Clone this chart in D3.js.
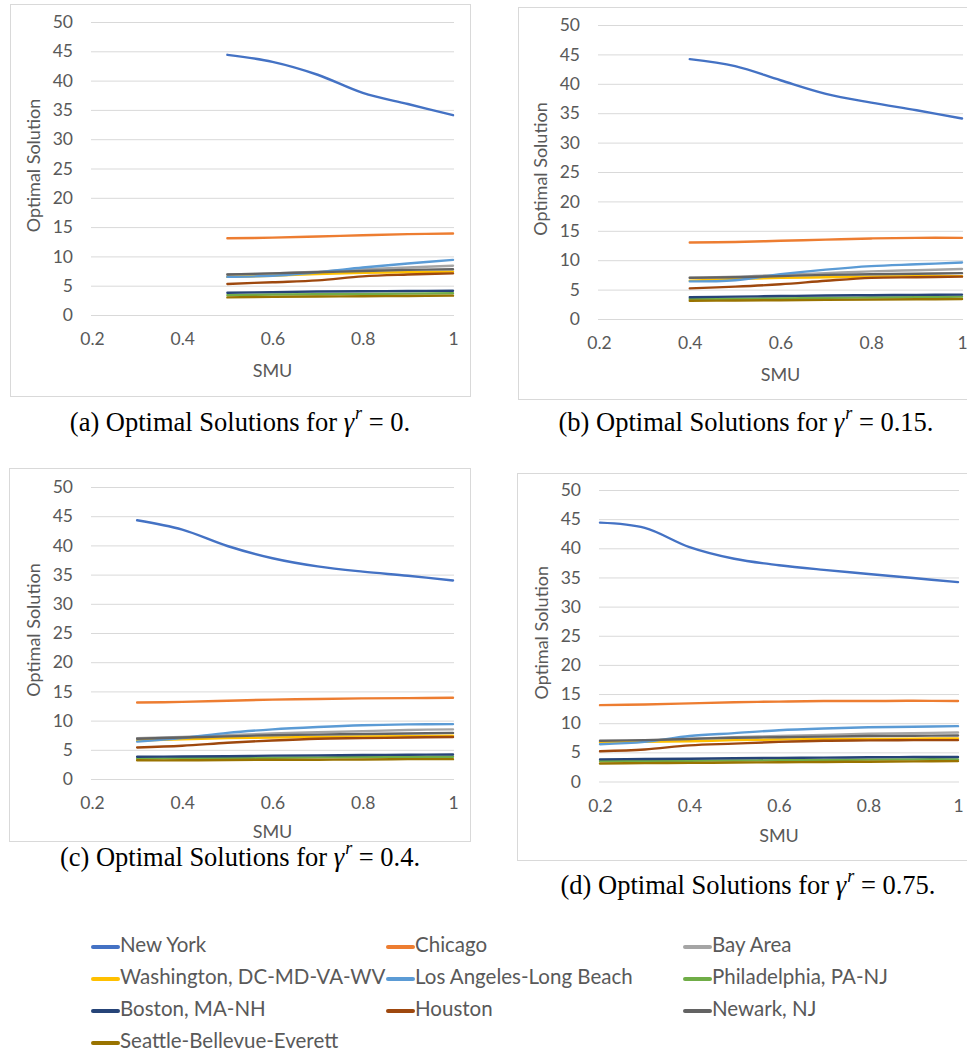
<!DOCTYPE html>
<html>
<head>
<meta charset="utf-8">
<script src="https://cdn.jsdelivr.net/npm/d3@7"></script>
<style>
  html, body { margin: 0; padding: 0; background: #fff; }
  svg { display: block; }
</style>
</head>
<body>
<svg id="chart" width="967" height="1054"></svg>
<script>
// ---------------- DATA ----------------
const cities = ["New York", "Chicago", "Bay Area", "Washington, DC-MD-VA-WV", "Los Angeles-Long Beach",
  "Philadelphia, PA-NJ", "Boston, MA-NH", "Houston", "Newark, NJ", "Seattle-Bellevue-Everett"];
const cityColors = ["#4472C4", "#ED7D31", "#A5A5A5", "#FFC000", "#5B9BD5",
  "#70AD47", "#264478", "#9E480E", "#636363", "#997300"];

const yTicks = [0, 5, 10, 15, 20, 25, 30, 35, 40, 45, 50];
const xTicks = [0.2, 0.4, 0.6, 0.8, 1];
const xTickLabels = ["0.2", "0.4", "0.6", "0.8", "1"];

const panelLetters = ["(a)", "(b)", "(c)", "(d)"];
const gammaValues = ["0", "0.15", "0.4", "0.75"];

// (a) gamma^r = 0
const smuA = [0.5, 0.6, 0.7, 0.8, 0.9, 1.0];
const valuesA = [
  [44.4, 43.2, 41.0, 37.9, 36.0, 34.1],
  [13.1, 13.2, 13.4, 13.6, 13.8, 13.9],
  [6.9, 7.1, 7.4, 7.8, 8.1, 8.4],
  [6.5, 6.7, 7.0, 7.2, 7.3, 7.4],
  [6.5, 6.7, 7.3, 8.1, 8.8, 9.4],
  [3.4, 3.5, 3.55, 3.6, 3.65, 3.7],
  [3.8, 3.9, 4.0, 4.05, 4.1, 4.15],
  [5.3, 5.6, 5.9, 6.6, 6.9, 7.1],
  [6.9, 7.1, 7.3, 7.5, 7.7, 7.8],
  [3.0, 3.1, 3.15, 3.2, 3.25, 3.3]
];
// (b) gamma^r = 0.15
const smuB = [0.4, 0.5, 0.6, 0.7, 0.8, 0.9, 1.0];
const valuesB = [
  [44.2, 43.0, 40.6, 38.3, 36.8, 35.5, 34.1],
  [13.0, 13.1, 13.3, 13.5, 13.7, 13.8, 13.8],
  [7.05, 7.2, 7.5, 7.8, 8.1, 8.3, 8.5],
  [6.5, 6.8, 7.0, 7.1, 7.2, 7.3, 7.3],
  [6.4, 6.6, 7.6, 8.4, 9.0, 9.3, 9.6],
  [3.4, 3.45, 3.5, 3.6, 3.65, 3.7, 3.8],
  [3.7, 3.8, 3.9, 4.0, 4.05, 4.1, 4.15],
  [5.2, 5.5, 5.9, 6.5, 7.0, 7.1, 7.2],
  [7.0, 7.1, 7.3, 7.5, 7.6, 7.7, 7.8],
  [3.1, 3.15, 3.2, 3.25, 3.3, 3.35, 3.4]
];
// (c) gamma^r = 0.4
const smuC = [0.3, 0.4, 0.5, 0.6, 0.7, 0.8, 0.9, 1.0];
const valuesC = [
  [44.3, 42.7, 39.9, 37.8, 36.4, 35.5, 34.8, 34.0],
  [13.1, 13.2, 13.4, 13.6, 13.7, 13.8, 13.85, 13.9],
  [7.0, 7.2, 7.5, 7.8, 8.0, 8.2, 8.4, 8.5],
  [6.6, 6.8, 7.0, 7.1, 7.2, 7.3, 7.35, 7.4],
  [6.4, 7.0, 7.9, 8.5, 8.9, 9.2, 9.35, 9.4],
  [3.5, 3.55, 3.6, 3.65, 3.7, 3.75, 3.8, 3.8],
  [3.8, 3.85, 3.9, 4.0, 4.05, 4.1, 4.15, 4.2],
  [5.4, 5.7, 6.2, 6.6, 6.9, 7.0, 7.1, 7.2],
  [6.9, 7.1, 7.3, 7.5, 7.6, 7.7, 7.8, 7.9],
  [3.2, 3.2, 3.25, 3.3, 3.3, 3.35, 3.4, 3.4]
];
// (d) gamma^r = 0.75
const smuD = [0.2, 0.3, 0.4, 0.5, 0.6, 0.7, 0.8, 0.9, 1.0];
const valuesD = [
  [44.4, 43.5, 40.2, 38.2, 37.1, 36.3, 35.6, 34.9, 34.2],
  [13.1, 13.2, 13.4, 13.6, 13.7, 13.8, 13.8, 13.85, 13.8],
  [6.85, 7.0, 7.3, 7.6, 7.8, 8.0, 8.2, 8.3, 8.4],
  [6.7, 6.8, 6.9, 7.1, 7.2, 7.3, 7.3, 7.35, 7.4],
  [6.4, 6.8, 7.8, 8.3, 8.8, 9.1, 9.3, 9.4, 9.5],
  [3.5, 3.5, 3.55, 3.6, 3.65, 3.7, 3.75, 3.8, 3.8],
  [3.8, 3.85, 3.9, 4.0, 4.05, 4.1, 4.15, 4.2, 4.2],
  [5.2, 5.5, 6.2, 6.5, 6.8, 7.0, 7.05, 7.1, 7.1],
  [7.0, 7.1, 7.3, 7.5, 7.6, 7.7, 7.8, 7.85, 7.9],
  [3.1, 3.15, 3.2, 3.25, 3.3, 3.35, 3.4, 3.45, 3.5]
];

// ---------------- LAYOUT ----------------
const panels = [
  { smu: smuA, values: valuesA, x0: 92,  x1: 453, yTop: 22,  yBot: 315,   box: [10, 4, 470, 396],  cap: [240, 425], smuDy: 57 },
  { smu: smuB, values: valuesB, x0: 599, x1: 962, yTop: 25,  yBot: 319,   box: [518, 7, 980, 399], cap: [746, 425], smuDy: 57 },
  { smu: smuC, values: valuesC, x0: 92,  x1: 453, yTop: 487, yBot: 779,   box: [9, 468, 470, 841], cap: [240, 860], smuDy: 54 },
  { smu: smuD, values: valuesD, x0: 600, x1: 958, yTop: 490, yBot: 781.5, box: [517, 473, 980, 860], cap: [748, 888], smuDy: 56 }
];

const svg = d3.select("#chart");
const axisFont = "Lato, 'Open Sans', sans-serif";
const textGray = "#595959";

panels.forEach((p, pi) => {
  const g = svg.append("g");
  // frame
  g.append("rect")
    .attr("x", p.box[0] + 0.5).attr("y", p.box[1] + 0.5)
    .attr("width", p.box[2] - p.box[0]).attr("height", p.box[3] - p.box[1])
    .attr("fill", "#fff").attr("stroke", "#d9d9d9").attr("stroke-width", 1);

  const x = d3.scaleLinear().domain([0.2, 1]).range([p.x0, p.x1]);
  const y = d3.scaleLinear().domain([0, 50]).range([p.yBot, p.yTop]);

  // gridlines + y tick labels via axis
  const yAxis = d3.axisLeft(y).tickValues(yTicks).tickSize(-(p.x1 - p.x0 + 2)).tickPadding(18);
  const yg = g.append("g").attr("transform", `translate(${p.x0 - 1},0)`).call(yAxis);
  yg.select(".domain").remove();
  yg.selectAll(".tick line").attr("stroke", "#d9d9d9").attr("stroke-width", 1);
  yg.selectAll(".tick text").attr("font-family", axisFont).attr("font-size", 17.5)
    .attr("fill", textGray);

  // x tick labels via axis (no lines)
  const xAxis = d3.axisBottom(x).tickValues(xTicks).tickFormat((d, i) => xTickLabels[i]).tickSize(0).tickPadding(18);
  const xg = g.append("g").attr("transform", `translate(0,${p.yBot})`).call(xAxis);
  xg.select(".domain").remove();
  xg.selectAll(".tick text").attr("font-family", axisFont).attr("font-size", 17.5)
    .attr("fill", textGray);

  // axis titles
  g.append("text").attr("x", (p.x0 + p.x1) / 2).attr("y", p.yBot + p.smuDy)
    .attr("text-anchor", "middle").attr("dominant-baseline", "middle")
    .attr("font-family", axisFont).attr("font-size", 18).attr("fill", textGray).text("SMU");
  g.append("text")
    .attr("transform", `translate(${p.x0 - 57},${(p.yTop + p.yBot) / 2 - 3}) rotate(-90)`)
    .attr("text-anchor", "middle").attr("dominant-baseline", "middle")
    .attr("font-family", axisFont).attr("font-size", 18).attr("fill", textGray).text("Optimal Solution");

  // lines
  const line = d3.line()
    .x((d, i) => x(p.smu[i]))
    .y(d => y(d))
    .curve(d3.curveCatmullRom.alpha(0.5));
  p.values.forEach((vals, ci) => {
    g.append("path").datum(vals)
      .attr("d", line)
      .attr("fill", "none")
      .attr("stroke", cityColors[ci])
      .attr("stroke-width", 2.4)
      .attr("stroke-linecap", "round")
      .attr("stroke-linejoin", "round");
  });

  // caption
  const cap = svg.append("text").attr("x", p.cap[0]).attr("y", p.cap[1])
    .attr("text-anchor", "middle").attr("dominant-baseline", "middle")
    .attr("font-family", "'Liberation Serif', 'DejaVu Serif', serif").attr("font-size", 26.5).attr("fill", "#000");
  cap.append("tspan").text(panelLetters[pi] + " Optimal Solutions for ");
  cap.append("tspan").attr("font-style", "italic").text("γ");
  cap.append("tspan").attr("font-style", "italic").attr("font-size", 18).attr("dy", -10).attr("dx", 1).text("r");
  cap.append("tspan").attr("dy", 10).text("\u2005=\u2005" + gammaValues[pi] + ".");
});

// ---------------- LEGEND ----------------
const legendCols = [93, 388, 685];
const legendRows = [947, 979, 1011, 1043];
const legend = svg.append("g");
cities.forEach((c, i) => {
  const col = i % 3, row = Math.floor(i / 3);
  const lx = legendCols[col], ly = legendRows[row];
  legend.append("line").attr("x1", lx).attr("x2", lx + 25).attr("y1", ly).attr("y2", ly)
    .attr("stroke", cityColors[i]).attr("stroke-width", 4).attr("stroke-linecap", "round");
  legend.append("text").attr("x", lx + 27).attr("y", ly)
    .attr("dominant-baseline", "middle")
    .attr("font-family", axisFont).attr("font-size", 20.5).attr("fill", textGray).text(c);
});
</script>
</body>
</html>
